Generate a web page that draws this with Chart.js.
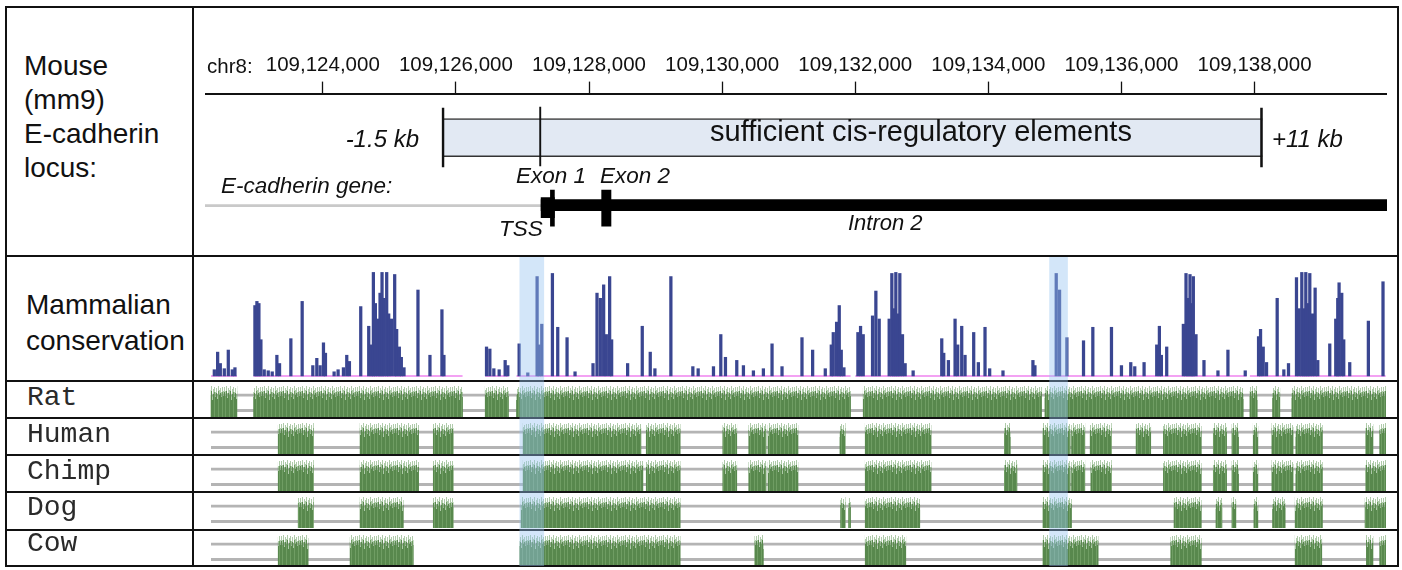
<!DOCTYPE html>
<html>
<head>
<meta charset="utf-8">
<title>Mouse E-cadherin locus</title>
<script src="https://cdn.jsdelivr.net/npm/chart.js@4.4.1/dist/chart.umd.min.js"></script>
<style>
    body { margin: 0; background: #fff; }
    #page { position: relative; width: 1402px; height: 570px; overflow: hidden; font-family: 'Liberation Sans', Arial, sans-serif; color: #111; }
    #page canvas { position: absolute; left: 205px; }
    .ln { position: absolute; background: #111; }
    .lbl { position: absolute; white-space: nowrap; line-height: 1; }
    .it { font-style: italic; }
    .mono { font-family: 'Courier New', 'Liberation Mono', monospace; font-size: 28px; color: #2a2a2a; }
</style>
</head>
<body>
<div id="page">
    <canvas id="topTrack" width="1182" height="200"></canvas>
    <canvas id="consTrack" width="1182" height="118" style="top:260px"></canvas>
    <canvas id="sp0" width="1182" height="35" style="top:382px"></canvas>
    <canvas id="sp1" width="1182" height="35" style="top:419px"></canvas>
    <canvas id="sp2" width="1182" height="35" style="top:456px"></canvas>
    <canvas id="sp3" width="1182" height="35" style="top:493px"></canvas>
    <canvas id="sp4" width="1182" height="35" style="top:531px"></canvas>

    <!-- table lines -->
    <div class="ln" style="left:5px;top:6px;width:1394px;height:2px"></div>
    <div class="ln" style="left:5px;top:565px;width:1394px;height:2px"></div>
    <div class="ln" style="left:5px;top:6px;width:2px;height:561px"></div>
    <div class="ln" style="left:1397px;top:6px;width:2px;height:561px"></div>
    <div class="ln" style="left:192px;top:6px;width:2px;height:561px"></div>
    <div class="ln" style="left:5px;top:255px;width:1394px;height:2px"></div>
    <div class="ln" style="left:5px;top:380px;width:1394px;height:2px"></div>
    <div class="ln" style="left:5px;top:417px;width:1394px;height:2px"></div>
    <div class="ln" style="left:5px;top:454px;width:1394px;height:2px"></div>
    <div class="ln" style="left:5px;top:491px;width:1394px;height:2px"></div>
    <div class="ln" style="left:5px;top:529px;width:1394px;height:2px"></div>

    <!-- left column -->
    <div class="lbl" style="left:24px;top:48.6px;font-size:28px;line-height:34.3px">Mouse<br>(mm9)<br>E-cadherin<br>locus:</div>
    <div class="lbl" style="left:26px;top:286.8px;font-size:28px;line-height:36px">Mammalian<br>conservation</div>

    <!-- top track text -->
    <div class="lbl" style="left:207px;top:56px;font-size:20.5px">chr8:</div>
    <div class="lbl it" style="right:983px;top:127.1px;font-size:24px">-1.5 kb</div>
    <div class="lbl it" style="left:1272px;top:127.1px;font-size:24px">+11 kb</div>
    <div class="lbl" style="left:921px;top:117px;font-size:29px;transform:translateX(-50%)">sufficient cis-regulatory elements</div>
    <div class="lbl it" style="left:221px;top:174.6px;font-size:22.5px">E-cadherin gene:</div>
    <div class="lbl it" style="left:516px;top:164.6px;font-size:22.5px">Exon 1</div>
    <div class="lbl it" style="left:600px;top:164.6px;font-size:22.5px">Exon 2</div>
    <div class="lbl it" style="left:499px;top:218px;font-size:22.5px">TSS</div>
    <div class="lbl it" style="left:848px;top:211.7px;font-size:22px">Intron 2</div>

    <canvas id="hlTrack" width="1182" height="309" style="top:257px"></canvas>
</div>
<script>
// visible window on chr8, in kb
const viewRange = [109122.23, 109139.99];
const tickValues = [109124, 109126, 109128, 109130, 109132, 109134, 109136, 109138];

// gene model and the -1.5 kb .. +11 kb region
const sufficientRegion = [109125.79, 109138.12];
const tssPos = 109127.28;
const geneEnd = 109139.99;
const exon1Utr = [109127.28, 109127.48];
const exonCds = [[109127.42, 109127.48], [109128.19, 109128.33]];

// mammalian conservation (position kb, score 0..1)
const consPos = [
    109122.37, 109122.42, 109122.46, 109122.52, 109122.58, 109122.64, 109122.68,
    109122.98, 109123.01, 109123.04, 109123.07, 109123.12, 109123.18, 109123.24, 109123.31, 109123.35,
    109123.52, 109123.69, 109123.85, 109123.91, 109123.96, 109124.01, 109124.04,
    109124.17, 109124.23, 109124.31, 109124.36, 109124.40,
    109124.57, 109124.69, 109124.73, 109124.76, 109124.79, 109124.83, 109124.86, 109124.89, 109124.92,
    109124.96, 109124.99, 109125.03, 109125.08, 109125.11, 109125.15, 109125.18, 109125.22,
    109125.43, 109125.61, 109125.79, 109125.82,
    109126.46, 109126.51, 109126.57, 109126.65, 109126.74, 109126.78,
    109126.95, 109127.08, 109127.22, 109127.25, 109127.29, 109127.45, 109127.53, 109127.67, 109127.79,
    109128.06, 109128.12, 109128.17, 109128.22, 109128.26, 109128.31, 109128.34,
    109128.58, 109128.80, 109128.92, 109128.99, 109129.23, 109129.56, 109129.64, 109129.87, 109129.98, 109130.05,
    109130.22, 109130.32, 109130.47, 109130.62, 109130.75, 109130.90,
    109131.20, 109131.36, 109131.55, 109131.64, 109131.67, 109131.72, 109131.76, 109131.79, 109131.83,
    109132.04, 109132.08, 109132.12, 109132.26, 109132.31, 109132.36,
    109132.51, 109132.55, 109132.58, 109132.61, 109132.64, 109132.67, 109132.71, 109132.75, 109132.87,
    109133.30, 109133.33, 109133.40, 109133.50, 109133.54, 109133.60, 109133.65, 109133.78, 109133.85, 109133.95, 109134.02,
    109134.22, 109134.67, 109134.70, 109135.02, 109135.07, 109135.18, 109135.43, 109135.57, 109135.85,
    109136.00, 109136.14, 109136.20, 109136.34, 109136.53, 109136.57, 109136.60, 109136.68,
    109136.93, 109136.97, 109137.00, 109137.03, 109137.06, 109137.08, 109137.12, 109137.24, 109137.45, 109137.60, 109137.86,
    109138.06, 109138.09, 109138.13, 109138.18, 109138.34, 109138.44, 109138.51,
    109138.63, 109138.67, 109138.71, 109138.74, 109138.77, 109138.80, 109138.83, 109138.87, 109138.91, 109138.95,
    109139.13, 109139.22, 109139.25, 109139.27, 109139.31, 109139.34, 109139.43, 109139.71, 109139.93
];
const consVal = [
    0.06, 0.23, 0.12, 0.07, 0.25, 0.06, 0.08,
    0.68, 0.72, 0.70, 0.35, 0.06, 0.05, 0.04, 0.20, 0.12,
    0.36, 0.72, 0.10, 0.17, 0.10, 0.32, 0.22,
    0.04, 0.06, 0.08, 0.20, 0.14,
    0.67, 0.48, 0.30, 1.00, 0.70, 0.55, 0.80, 1.00, 0.75,
    1.00, 0.60, 0.55, 0.98, 0.45, 0.28, 0.18, 0.08,
    0.83, 0.20, 0.64, 0.20,
    0.28, 0.26, 0.07, 0.06, 0.15, 0.10,
    0.31, 0.03, 0.96, 0.30, 0.50, 0.99, 0.47, 0.37, 0.04,
    0.12, 0.80, 0.75, 0.88, 0.40, 0.96, 0.35,
    0.12, 0.48, 0.23, 0.07, 0.96, 0.09, 0.07, 0.09, 0.40, 0.18,
    0.15, 0.10, 0.05, 0.07, 0.31, 0.09,
    0.37, 0.25, 0.07, 0.30, 0.42, 0.52, 0.68, 0.25, 0.08,
    0.42, 0.48, 0.40, 0.58, 0.82, 0.55,
    0.55, 0.99, 0.65, 1.00, 0.60, 0.99, 0.40, 0.12, 0.05,
    0.36, 0.22, 0.15, 0.55, 0.30, 0.48, 0.20, 0.42, 0.13, 0.47, 0.07,
    0.05, 0.15, 0.10, 0.99, 0.83, 0.37, 0.34, 0.47, 0.47,
    0.10, 0.13, 0.09, 0.13, 0.30, 0.48, 0.20, 0.28,
    0.50, 0.99, 0.75, 0.98, 0.70, 0.96, 0.40, 0.15, 0.05, 0.25, 0.05,
    0.38, 0.45, 0.28, 0.13, 0.75, 0.06, 0.12,
    0.95, 0.65, 1.00, 0.65, 1.00, 0.70, 0.99, 0.60, 0.85, 0.15,
    0.31, 0.55, 0.75, 0.90, 0.80, 0.35, 0.13, 0.53, 0.91
];
// stretches that carry a conservation baseline
const consSegments = [[109122.32, 109122.71], [109122.96, 109126.10], [109126.44, 109126.79],
    [109126.91, 109131.93], [109132.00, 109137.88], [109137.93, 109139.97]];

// pairwise alignment blocks per species
const speciesNames = ['Rat', 'Human', 'Chimp', 'Dog', 'Cow'];
const ratBlocks = [[109122.32, 109122.71], [109122.96, 109126.10], [109126.44, 109126.79], [109126.91, 109131.93],
    [109132.12, 109134.80], [109134.85, 109137.83], [109137.93, 109138.04], [109138.27, 109138.38], [109138.56, 109139.97]];
const humanBlocks = [[109123.33, 109123.86], [109124.56, 109125.44], [109125.66, 109125.96], [109127.01, 109128.78],
    [109128.86, 109129.37], [109130.01, 109130.22], [109130.40, 109130.66], [109130.69, 109131.14], [109131.77, 109131.85],
    [109132.15, 109133.14], [109134.24, 109134.33], [109134.82, 109135.23], [109135.25, 109135.45], [109135.53, 109135.85],
    [109136.22, 109136.44], [109136.63, 109137.20], [109137.38, 109137.58], [109137.66, 109137.76], [109137.98, 109138.05],
    [109138.26, 109138.58], [109138.62, 109139.02], [109139.67, 109139.78], [109139.88, 109139.97]];
const chimpBlocks = [[109123.33, 109123.86], [109124.56, 109125.44], [109125.66, 109125.96], [109127.01, 109128.81],
    [109128.86, 109129.37], [109130.01, 109130.22], [109130.40, 109130.66], [109130.69, 109131.14], [109132.15, 109133.14],
    [109134.24, 109134.43], [109134.82, 109135.23], [109135.25, 109135.45], [109135.54, 109135.85], [109136.63, 109137.20],
    [109137.38, 109137.58], [109137.66, 109137.76], [109137.98, 109138.05], [109138.26, 109138.58], [109138.62, 109139.02],
    [109139.67, 109139.97]];
const dogBlocks = [[109123.63, 109123.86], [109124.56, 109125.21], [109125.66, 109125.96], [109126.98, 109129.37],
    [109131.78, 109131.85], [109131.90, 109131.93], [109132.15, 109132.97], [109134.82, 109135.25], [109136.79, 109137.20],
    [109137.42, 109137.51], [109137.66, 109137.72], [109137.99, 109138.05], [109138.27, 109138.46], [109138.61, 109139.02],
    [109139.66, 109139.97]];
const cowBlocks = [[109123.33, 109123.78], [109124.41, 109125.36], [109126.96, 109129.37], [109130.49, 109130.62],
    [109132.15, 109132.76], [109134.82, 109135.65], [109136.74, 109137.20], [109138.61, 109139.01], [109139.68, 109139.78],
    [109139.88, 109139.97]];
// where the double gap line is drawn
const trackSpan = [[109122.32, 109139.97]];
const cowSpan = [[109122.32, 109125.36], [109126.96, 109139.97]];

// blue highlight columns
const highlightRanges = [[109126.96, 109127.32], [109134.92, 109135.19]];

Chart.defaults.font.family = "'Liberation Sans', Arial, sans-serif";
Chart.defaults.color = '#111';

// lanes (pixels below the top of each plot area)
const LANE_TOP = { box: 44, upstream: 112, gene: 111.5, utr: 114, exon: 114.5 };
const LANE_SP = { block: 19.5, gap: 20.75 };
const SP_TOPS = [383.5, 421.2, 457.8, 493.5, 530.2];

function baseOptions(extra) {
    return Object.assign({
        responsive: false,
        animation: false,
        devicePixelRatio: 1,
        events: [],
        layout: { padding: 0 },
        plugins: { legend: { display: false }, tooltip: { enabled: false } }
    }, extra);
}

function xAxis() {
    return { type: 'linear', min: viewRange[0], max: viewRange[1], offset: false, stacked: false, display: false };
}

function laneAxis(h) {
    return { type: 'linear', min: 0, max: h, reverse: true, offset: false, display: false };
}

// horizontal floating bars on one lane
function bars(ranges, lane, style) {
    return Object.assign({ data: ranges.map(r => ({ x: r, y: lane })), stack: 'lane', borderWidth: 0 }, style);
}

function segmentLine(segs) {
    const pts = [];
    segs.forEach(([s, e]) => { pts.push({ x: s, y: 0 }, { x: e, y: 0 }, { x: e, y: null }); });
    return pts;
}

// streaky green fill with a ragged top, like the alignment wiggles
function greenPattern(canvas) {
    const tops = [5, 9, 4, 11, 6, 8, 4, 13, 7, 5, 10, 6, 12, 4, 8, 6, 10, 5, 9];
    const tile = document.createElement('canvas');
    tile.width = tops.length;
    tile.height = canvas.height;
    const c = tile.getContext('2d');
    tops.forEach((t, i) => {
        c.fillStyle = 'rgba(110,160,100,0.55)';
        c.fillRect(i, t, 1, 5);
        c.fillStyle = i % 4 === 1 ? '#6f9d63' : '#58884d';
        c.fillRect(i, t + 5, 1, tile.height - t - 5);
    });
    return canvas.getContext('2d').createPattern(tile, 'repeat');
}

// top track: coordinate axis, regulatory region and gene model
const topChart = new Chart(document.getElementById('topTrack'), {
    type: 'bar',
    data: {
        datasets: [
            bars(exonCds, LANE_TOP.exon, { backgroundColor: '#000', barThickness: 36 }),
            bars([exon1Utr], LANE_TOP.utr, { backgroundColor: '#000', barThickness: 20 }),
            bars([[tssPos, geneEnd]], LANE_TOP.gene, { backgroundColor: '#000', barThickness: 11 }),
            bars([[viewRange[0], tssPos]], LANE_TOP.upstream, { backgroundColor: '#c9c9c9', barThickness: 2 }),
            bars([[sufficientRegion[0], tssPos]], LANE_TOP.box - 1, {
                backgroundColor: 'rgba(0,0,0,0)', borderColor: '#111', borderSkipped: false,
                borderWidth: { top: 0, right: 1.5, bottom: 0, left: 0 }, barThickness: 60
            }),
            bars([sufficientRegion], LANE_TOP.box, {
                backgroundColor: 'rgba(0,0,0,0)', borderColor: '#111', borderSkipped: false,
                borderWidth: { top: 0, right: 2, bottom: 0, left: 2 }, barThickness: 60
            }),
            bars([sufficientRegion], LANE_TOP.box, {
                backgroundColor: '#e2e9f3', borderColor: '#333', borderSkipped: false,
                borderWidth: { top: 1.5, right: 0, bottom: 1.5, left: 0 }, barThickness: 38
            })
        ]
    },
    options: baseOptions({
        indexAxis: 'y',
        scales: {
            x: {
                type: 'linear', position: 'top', min: viewRange[0], max: viewRange[1], offset: false, stacked: false,
                afterBuildTicks: axis => { axis.ticks = tickValues.map(v => ({ value: v })); },
                ticks: {
                    autoSkip: false, maxRotation: 0, padding: 4, color: '#111', font: { size: 20.5 },
                    callback: v => Math.round(v * 1000).toLocaleString('en-US')
                },
                grid: { drawOnChartArea: false, tickLength: 12, tickWidth: 1.3, tickColor: '#111' },
                border: { color: '#111', width: 2 }
            },
            y: laneAxis(156)
        }
    })
});
// put the axis line where the reference has it
topChart.canvas.style.top = (94 - topChart.chartArea.top) + 'px';
topChart.options.scales.y.max = topChart.chartArea.height;
topChart.update();

// conservation histogram
new Chart(document.getElementById('consTrack'), {
    type: 'bar',
    data: {
        datasets: [
            {
                data: consPos.map((x, i) => ({ x: x, y: consVal[i] })),
                backgroundColor: 'rgb(58,70,145)', barThickness: 2.6, stack: 'cons', borderWidth: 0
            },
            {
                type: 'line', data: segmentLine(consSegments), borderColor: 'rgba(236,110,236,0.85)',
                borderWidth: 1.5, pointRadius: 0, spanGaps: false
            }
        ]
    },
    options: baseOptions({
        scales: {
            x: xAxis(),
            y: { type: 'linear', min: -0.02, max: 1.12, display: false, stacked: false }
        }
    })
});

// species alignment tracks
const speciesBlocks = [ratBlocks, humanBlocks, chimpBlocks, dogBlocks, cowBlocks];
const speciesSpans = [trackSpan, trackSpan, trackSpan, trackSpan, cowSpan];
speciesNames.forEach((name, i) => {
    const canvas = document.getElementById('sp' + i);
    new Chart(canvas, {
        type: 'bar',
        data: {
            datasets: [
                bars(speciesBlocks[i], LANE_SP.block, { backgroundColor: greenPattern(canvas), barThickness: 31 }),
                bars(speciesSpans[i], LANE_SP.gap, {
                    backgroundColor: 'rgba(0,0,0,0)', borderColor: '#b4b4b4', borderSkipped: false,
                    borderWidth: { top: 2.5, right: 0, bottom: 2.5, left: 0 }, barThickness: 18
                })
            ]
        },
        options: baseOptions({ indexAxis: 'y', scales: { x: xAxis(), y: laneAxis(canvas.height) } })
    });

    // row label
    const label = document.createElement('div');
    label.className = 'lbl mono';
    label.style.left = '27px';
    label.style.top = SP_TOPS[i] + 'px';
    label.textContent = name;
    document.getElementById('page').appendChild(label);
});

// highlight columns over conservation and species rows
new Chart(document.getElementById('hlTrack'), {
    type: 'bar',
    data: {
        datasets: [bars(highlightRanges, 0.5, { backgroundColor: 'rgba(150,195,240,0.42)', barThickness: 309 })]
    },
    options: baseOptions({
        indexAxis: 'y',
        scales: { x: xAxis(), y: { type: 'linear', min: 0, max: 1, offset: false, display: false } }
    })
});
</script>
</body>
</html>
